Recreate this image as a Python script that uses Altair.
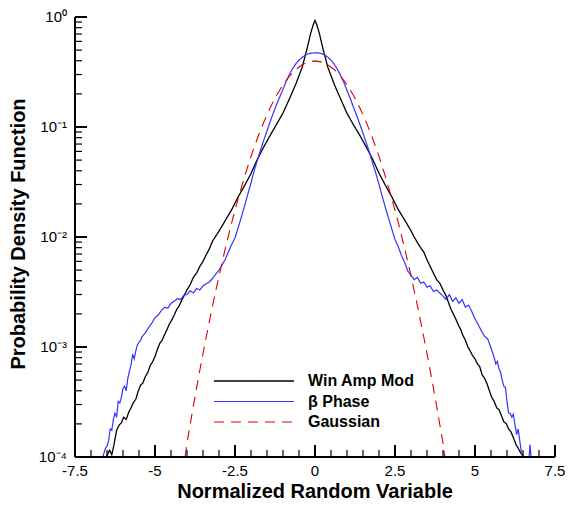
import altair as alt
import pandas as pd

# ---------------- data ----------------
series_names = ["Win Amp Mod", "β Phase", "Gaussian"]
series_colors = ["#000000", "#3333ff", "#dd0000"]
series_dashes = [[1, 0], [1, 0], [10, 7]]
series_widths = [1.3, 1.1, 1.2]

win_x = [-6.52, -6.42, -6.35, -6.28, -6.2, -6.12, -6.05, -5.98, -5.9, -5.82, -5.75,
         -5.68, -5.6, -5.52, -5.45, -5.38, -5.3, -5.22, -5.15, -5.08, -5.0, -4.92, -4.85,
         -4.78, -4.7, -4.62, -4.55, -4.48, -4.4, -4.32, -4.25, -4.18, -4.1, -4.0, -3.9,
         -3.8, -3.7, -3.6, -3.5, -3.4, -3.3, -3.2, -3.1, -3.0, -2.8, -2.6, -2.4, -2.2,
         -2.0, -1.8, -1.6, -1.4, -1.2, -1.0, -0.8, -0.6, -0.4, -0.26, -0.13, -0.05, 0.0,
         0.05, 0.13, 0.26, 0.4, 0.6, 0.8, 1.0, 1.2, 1.4, 1.6, 1.8, 2.0, 2.2, 2.4, 2.6,
         2.8, 3.0, 3.1, 3.2, 3.3, 3.4, 3.5, 3.6, 3.7, 3.8, 3.9, 4.0, 4.1, 4.18, 4.25,
         4.32, 4.4, 4.48, 4.55, 4.62, 4.7, 4.78, 4.85, 4.92, 5.0, 5.08, 5.15, 5.22, 5.3,
         5.38, 5.45, 5.52, 5.6, 5.68, 5.75, 5.82, 5.9, 5.98, 6.05, 6.12, 6.2, 6.28, 6.35,
         6.42, 6.52]
win_y = [1.0e-4, 1.15e-4, 1.05e-4, 1.3e-4, 1.75e-4, 1.95e-4, 2.05e-4, 2.3e-4, 2.2e-4,
         2.55e-4, 2.8e-4, 3.1e-4, 3.35e-4, 4.0e-4, 4.5e-4, 4.7e-4, 5.4e-4, 5.9e-4, 6.8e-4,
         7.3e-4, 8.2e-4, 9.6e-4, 1.08e-3, 1.15e-3, 1.3e-3, 1.45e-3, 1.62e-3, 1.75e-3, 1.95e-3,
         2.2e-3, 2.35e-3, 2.6e-3, 2.9e-3, 3.3e-3, 3.7e-3, 4.3e-3, 4.7e-3, 5.4e-3, 6.0e-3,
         6.9e-3, 7.8e-3, 9.2e-3, 0.0102, 0.0113, 0.0142, 0.0178, 0.0232, 0.0293, 0.0378,
         0.051, 0.066, 0.084, 0.106, 0.134, 0.18, 0.245, 0.35, 0.5, 0.72, 0.86, 0.93,
         0.86, 0.72, 0.5, 0.35, 0.245, 0.18, 0.133, 0.105, 0.084, 0.066, 0.051, 0.038,
         0.0295, 0.0232, 0.0178, 0.0143, 0.0114, 0.0100, 0.0089, 0.0080, 0.0073, 0.0062,
         0.0054, 0.0047, 0.0041, 0.0038, 0.0033, 0.0029, 0.0025, 0.0022, 0.0020, 0.0018,
         0.00158, 0.00145, 0.00128, 0.00115, 0.00100, 9.2e-4, 8.4e-4, 7.8e-4, 7.0e-4,
         6.6e-4, 5.6e-4, 5.2e-4, 4.6e-4, 4.0e-4, 3.5e-4, 3.2e-4, 2.8e-4, 2.7e-4, 2.4e-4,
         2.1e-4, 2.0e-4, 1.8e-4, 1.7e-4, 1.5e-4, 1.3e-4, 1.2e-4, 1.1e-4, 1.0e-4]

beta_x = [-6.63, -6.55, -6.5, -6.45, -6.4, -6.35, -6.3, -6.25, -6.2, -6.15, -6.1, -6.05,
          -6.0, -5.95, -5.9, -5.85, -5.8, -5.75, -5.7, -5.65, -5.6, -5.55, -5.5, -5.45, -5.4,
          -5.3, -5.2, -5.1, -5.0, -4.9, -4.8, -4.7, -4.6, -4.5, -4.4, -4.3, -4.2, -4.1, -4.0,
          -3.9, -3.8, -3.7, -3.6, -3.5, -3.4, -3.3, -3.2, -3.1, -3.0, -2.9, -2.8, -2.7, -2.6,
          -2.5, -2.4, -2.3, -2.2, -2.1, -2.0, -1.9, -1.8, -1.7, -1.6, -1.5, -1.4, -1.3, -1.2,
          -1.1, -1.0, -0.9, -0.8, -0.7, -0.6, -0.5, -0.4, -0.3, -0.2, -0.1, 0.0, 0.1, 0.2,
          0.3, 0.4, 0.5, 0.6, 0.7, 0.8, 0.9, 1.0, 1.1, 1.2, 1.3, 1.4, 1.5, 1.6, 1.7, 1.8,
          1.9, 2.0, 2.1, 2.2, 2.3, 2.4, 2.5, 2.6, 2.7, 2.8, 2.9, 3.0, 3.1, 3.2, 3.3, 3.4,
          3.5, 3.6, 3.7, 3.8, 3.9, 4.0, 4.1, 4.2, 4.3, 4.4, 4.5, 4.6, 4.7, 4.8, 4.9, 5.0,
          5.1, 5.2, 5.3, 5.4, 5.5, 5.6, 5.65, 5.7, 5.75, 5.8, 5.85, 5.9, 5.95, 6.0, 6.05,
          6.1, 6.15, 6.2, 6.25, 6.3, 6.35, 6.4, 6.45, 6.5, 6.69, 6.72, 6.75]
beta_y = [1.0e-4, 1.2e-4, 1.25e-4, 1.4e-4, 1.8e-4, 1.75e-4, 2.2e-4, 2.5e-4, 2.3e-4,
          3.2e-4, 3.1e-4, 3.5e-4, 4.2e-4, 4.4e-4, 4.0e-4, 5.2e-4, 6.0e-4, 6.8e-4, 8.6e-4,
          7.8e-4, 9.2e-4, 1.05e-3, 1.1e-3, 1.15e-3, 1.25e-3, 1.35e-3, 1.5e-3, 1.65e-3,
          1.85e-3, 1.95e-3, 2.15e-3, 2.3e-3, 2.25e-3, 2.5e-3, 2.6e-3, 2.75e-3, 2.7e-3,
          2.95e-3, 3.0e-3, 3.25e-3, 3.1e-3, 3.4e-3, 3.3e-3, 3.6e-3, 3.75e-3, 3.9e-3, 4.2e-3,
          4.6e-3, 5.0e-3, 5.6e-3, 6.3e-3, 7.4e-3, 8.6e-3, 0.0098, 0.0122, 0.0152, 0.0192,
          0.0245, 0.031, 0.040, 0.050, 0.062, 0.076, 0.092, 0.112, 0.135, 0.16, 0.188, 0.22,
          0.26, 0.30, 0.34, 0.375, 0.405, 0.43, 0.45, 0.463, 0.47, 0.472, 0.471, 0.465,
          0.452, 0.432, 0.405, 0.372, 0.335, 0.295, 0.255, 0.215, 0.182, 0.152, 0.128, 0.106,
          0.088, 0.072, 0.059, 0.047, 0.038, 0.030, 0.0235, 0.0185, 0.0148, 0.0118, 0.0095,
          0.0082, 0.0068, 0.0059, 0.0049, 0.0045, 0.0041, 0.0043, 0.0038, 0.0039, 0.0035,
          0.0036, 0.0032, 0.0033, 0.0031, 0.0029, 0.0027, 0.0030, 0.0026, 0.0028, 0.0025,
          0.0027, 0.0023, 0.0024, 0.0021, 0.0018, 0.0016, 0.0014, 0.00125, 0.00118, 9.8e-4,
          8.0e-4, 7.0e-4, 7.4e-4, 6.3e-4, 5.9e-4, 5.0e-4, 4.4e-4, 4.3e-4, 3.2e-4, 2.5e-4,
          2.5e-4, 2.3e-4, 2.45e-4, 1.95e-4, 1.6e-4, 1.8e-4, 1.4e-4, 1.1e-4, 1.0e-4, 1.0e-4,
          1.3e-4, 1.0e-4]

gauss_x = [-4.06, -4.0, -3.8, -3.6, -3.4, -3.2, -3.0, -2.8, -2.6, -2.4, -2.2, -2.0, -1.8,
           -1.6, -1.4, -1.2, -1.0, -0.8, -0.6, -0.4, -0.2, 0.0, 0.2, 0.4, 0.6, 0.8, 1.0,
           1.2, 1.4, 1.6, 1.8, 2.0, 2.2, 2.4, 2.6, 2.8, 3.0, 3.2, 3.4, 3.6, 3.8, 4.0, 4.06]
gauss_y = [1.0e-4, 1.34e-4, 2.92e-4, 6.12e-4, 1.23e-3, 2.38e-3, 4.43e-3, 7.92e-3, 0.0136,
           0.0224, 0.0355, 0.0540, 0.0790, 0.1109, 0.1497, 0.1942, 0.2420, 0.2897, 0.3332,
           0.3683, 0.3910, 0.3989, 0.3910, 0.3683, 0.3332, 0.2897, 0.2420, 0.1942, 0.1497,
           0.1109, 0.0790, 0.0540, 0.0355, 0.0224, 0.0136, 7.92e-3, 4.43e-3, 2.38e-3,
           1.23e-3, 6.12e-4, 2.92e-4, 1.34e-4, 1.0e-4]

# axis labels and titles
x_label_values = [-7.5, -5, -2.5, 0, 2.5, 5, 7.5]
x_label_texts = ["-7.5", "-5", "-2.5", "0", "2.5", "5", "7.5"]
y_label_values = [1e-4, 1e-3, 1e-2, 1e-1, 1.0]
y_label_texts = ["10⁻⁴", "10⁻³", "10⁻²", "10⁻¹", "10⁰"]
x_title = "Normalized Random Variable"
y_title = "Probability Density Function"

# tick positions (axis decoration, drawn inward as in the reference)
x_minor_values = [-7.5 + 0.5 * i for i in range(31) if i % 5 != 0]
y_minor_values = [m * 10.0 ** e for e in range(-4, 0) for m in range(2, 10)]

frames = []
for name, xs, ys in zip(series_names, [win_x, beta_x, gauss_x], [win_y, beta_y, gauss_y]):
    frames.append(pd.DataFrame({"x": xs, "pdf": ys, "series": name}))
df = pd.concat(frames, ignore_index=True)
df["order"] = range(len(df))

FONT = "Liberation Sans"
W, H = 480, 440
xscale = alt.Scale(domain=[-7.5, 7.5], nice=False, zero=False)
yscale = alt.Scale(type="log", domain=[1e-4, 1.0], nice=False)

lines = alt.Chart(df).mark_line(clip=True).encode(
    x=alt.X("x:Q", scale=xscale, axis=None),
    y=alt.Y("pdf:Q", scale=yscale, axis=None),
    color=alt.Color("series:N", scale=alt.Scale(domain=series_names, range=series_colors),
                    legend=alt.Legend(title=None)),
    strokeDash=alt.StrokeDash("series:N", scale=alt.Scale(
        domain=series_names, range=series_dashes), legend=alt.Legend(title=None)),
    strokeWidth=alt.StrokeWidth("series:N", scale=alt.Scale(
        domain=series_names, range=series_widths), legend=None),
    order="order:Q",
)

# axis lines
xdomain = alt.Chart(pd.DataFrame({"v": [-7.5], "v2": [7.5]})).mark_rule(
    color="black", strokeWidth=2).encode(
    x=alt.X("v:Q", scale=xscale, axis=None), x2="v2:Q", y=alt.value(H))
ydomain = alt.Chart(pd.DataFrame({"v": [1e-4], "v2": [1.0]})).mark_rule(
    color="black", strokeWidth=2).encode(
    y=alt.Y("v:Q", scale=yscale, axis=None), y2="v2:Q", x=alt.value(0))

# inward tick marks
xmaj = alt.Chart(pd.DataFrame({"v": x_label_values})).mark_rule(
    color="black", strokeWidth=2).encode(
    x=alt.X("v:Q", scale=xscale, axis=None), y=alt.value(H), y2=alt.value(H - 12))
xmin = alt.Chart(pd.DataFrame({"v": x_minor_values})).mark_rule(
    color="black", strokeWidth=1.2).encode(
    x=alt.X("v:Q", scale=xscale, axis=None), y=alt.value(H), y2=alt.value(H - 7))
ymaj = alt.Chart(pd.DataFrame({"v": y_label_values})).mark_rule(
    color="black", strokeWidth=2).encode(
    y=alt.Y("v:Q", scale=yscale, axis=None), x=alt.value(0), x2=alt.value(12))
ymin = alt.Chart(pd.DataFrame({"v": y_minor_values})).mark_rule(
    color="black", strokeWidth=1.2).encode(
    y=alt.Y("v:Q", scale=yscale, axis=None), x=alt.value(0), x2=alt.value(7))

# tick labels and axis titles
xlab = alt.Chart(pd.DataFrame({"v": x_label_values, "t": x_label_texts})).mark_text(
    font=FONT, fontSize=15, color="black", baseline="top", align="center").encode(
    x=alt.X("v:Q", scale=xscale, axis=None), y=alt.value(H + 7), text="t:N")
ylab = alt.Chart(pd.DataFrame({"v": y_label_values, "t": y_label_texts})).mark_text(
    font=FONT, fontSize=15, color="black", baseline="middle", align="right").encode(
    y=alt.Y("v:Q", scale=yscale, axis=None), x=alt.value(-8), text="t:N")
xtit = alt.Chart(pd.DataFrame({"t": [x_title]})).mark_text(
    font=FONT, fontSize=20, fontWeight="bold", color="black", baseline="alphabetic",
    align="center").encode(x=alt.value(W / 2), y=alt.value(H + 41), text="t:N")
ytit = alt.Chart(pd.DataFrame({"t": [y_title]})).mark_text(
    font=FONT, fontSize=20, fontWeight="bold", color="black", baseline="alphabetic",
    align="center", angle=270).encode(x=alt.value(-50), y=alt.value(H / 2 - 3), text="t:N")

chart = alt.layer(lines, xdomain, ydomain, xmaj, xmin, ymaj, ymin,
                  xlab, ylab, xtit, ytit).properties(
    width=W, height=H,
    autosize=alt.AutoSizeParams(type="none"),
    padding={"left": 75, "top": 17, "right": 13, "bottom": 49},
).configure(
    font=FONT, background="white"
).configure_view(
    stroke=None
).configure_legend(
    orient="none", legendX=138, legendY=355, symbolType="stroke", symbolSize=6400,
    symbolStrokeWidth=1.3, clipHeight=18, rowPadding=2.5, labelFontSize=16,
    labelFont=FONT, labelFontWeight="bold", labelColor="black", labelOffset=13,
    padding=0, labelLimit=300,
)

chart.save("out.html", embed_options={"renderer": "svg", "actions": False})
